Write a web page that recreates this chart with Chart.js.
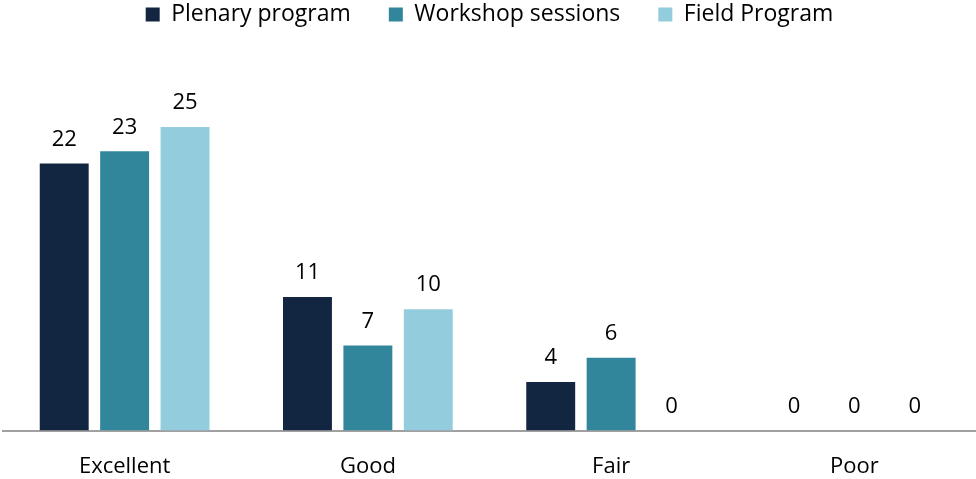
<!DOCTYPE html>
<html>
<head>
<meta charset="utf-8">
<script src="https://cdn.jsdelivr.net/npm/chart.js@4"></script>
<style>
  html, body { margin: 0; padding: 0; background: #fff; overflow: hidden; }
  #wrap { width: 976px; height: 514px; margin-top: -35px; }
</style>
</head>
<body>
<div id="wrap"><canvas id="chart"></canvas></div>
<script>
// Chart data
const categories = ['Excellent', 'Good', 'Fair', 'Poor'];
const plenary = [22, 11, 4, 0];
const workshop = [23, 7, 6, 0];
const field = [25, 10, 0, 0];

const FONT = '"Open Sans", sans-serif';

// Draw value labels above bars
const valueLabels = {
  id: 'valueLabels',
  afterDatasetsDraw(chart) {
    const ctx = chart.ctx;
    ctx.save();
    ctx.font = '22px ' + FONT;
    ctx.fillStyle = '#000';
    ctx.textAlign = 'center';
    ctx.textBaseline = 'bottom';
    chart.data.datasets.forEach((ds, i) => {
      const meta = chart.getDatasetMeta(i);
      meta.data.forEach((bar, j) => {
        ctx.fillText(String(ds.data[j]), bar.x, bar.y - 13);
      });
    });
    ctx.restore();
  }
};

new Chart(document.getElementById('chart'), {
  type: 'bar',
  data: {
    labels: categories,
    datasets: [
      { label: 'Plenary program', data: plenary, backgroundColor: '#132641' },
      { label: 'Workshop sessions', data: workshop, backgroundColor: '#31869b' },
      { label: 'Field Program', data: field, backgroundColor: '#93cddd' }
    ]
  },
  options: {
    responsive: true,
    maintainAspectRatio: false,
    animation: false,
    categoryPercentage: 0.745,
    barPercentage: 0.81,
    layout: { padding: { left: 3, right: 0, top: 0, bottom: -16 } },
    plugins: {
      legend: {
        position: 'top',
        labels: {
          boxWidth: 14,
          boxHeight: 14,
          padding: 38,
          color: '#000',
          font: { size: 23, family: FONT }
        }
      },
      tooltip: { enabled: false }
    },
    scales: {
      x: {
        grid: { display: false },
        border: { color: '#a0a0a0', width: 2 },
        ticks: {
          color: '#000',
          padding: 15,
          font: { size: 22, family: FONT }
        }
      },
      y: {
        display: false,
        min: 0,
        max: 32.5
      }
    }
  },
  plugins: [valueLabels]
});
</script>
</body>
</html>
